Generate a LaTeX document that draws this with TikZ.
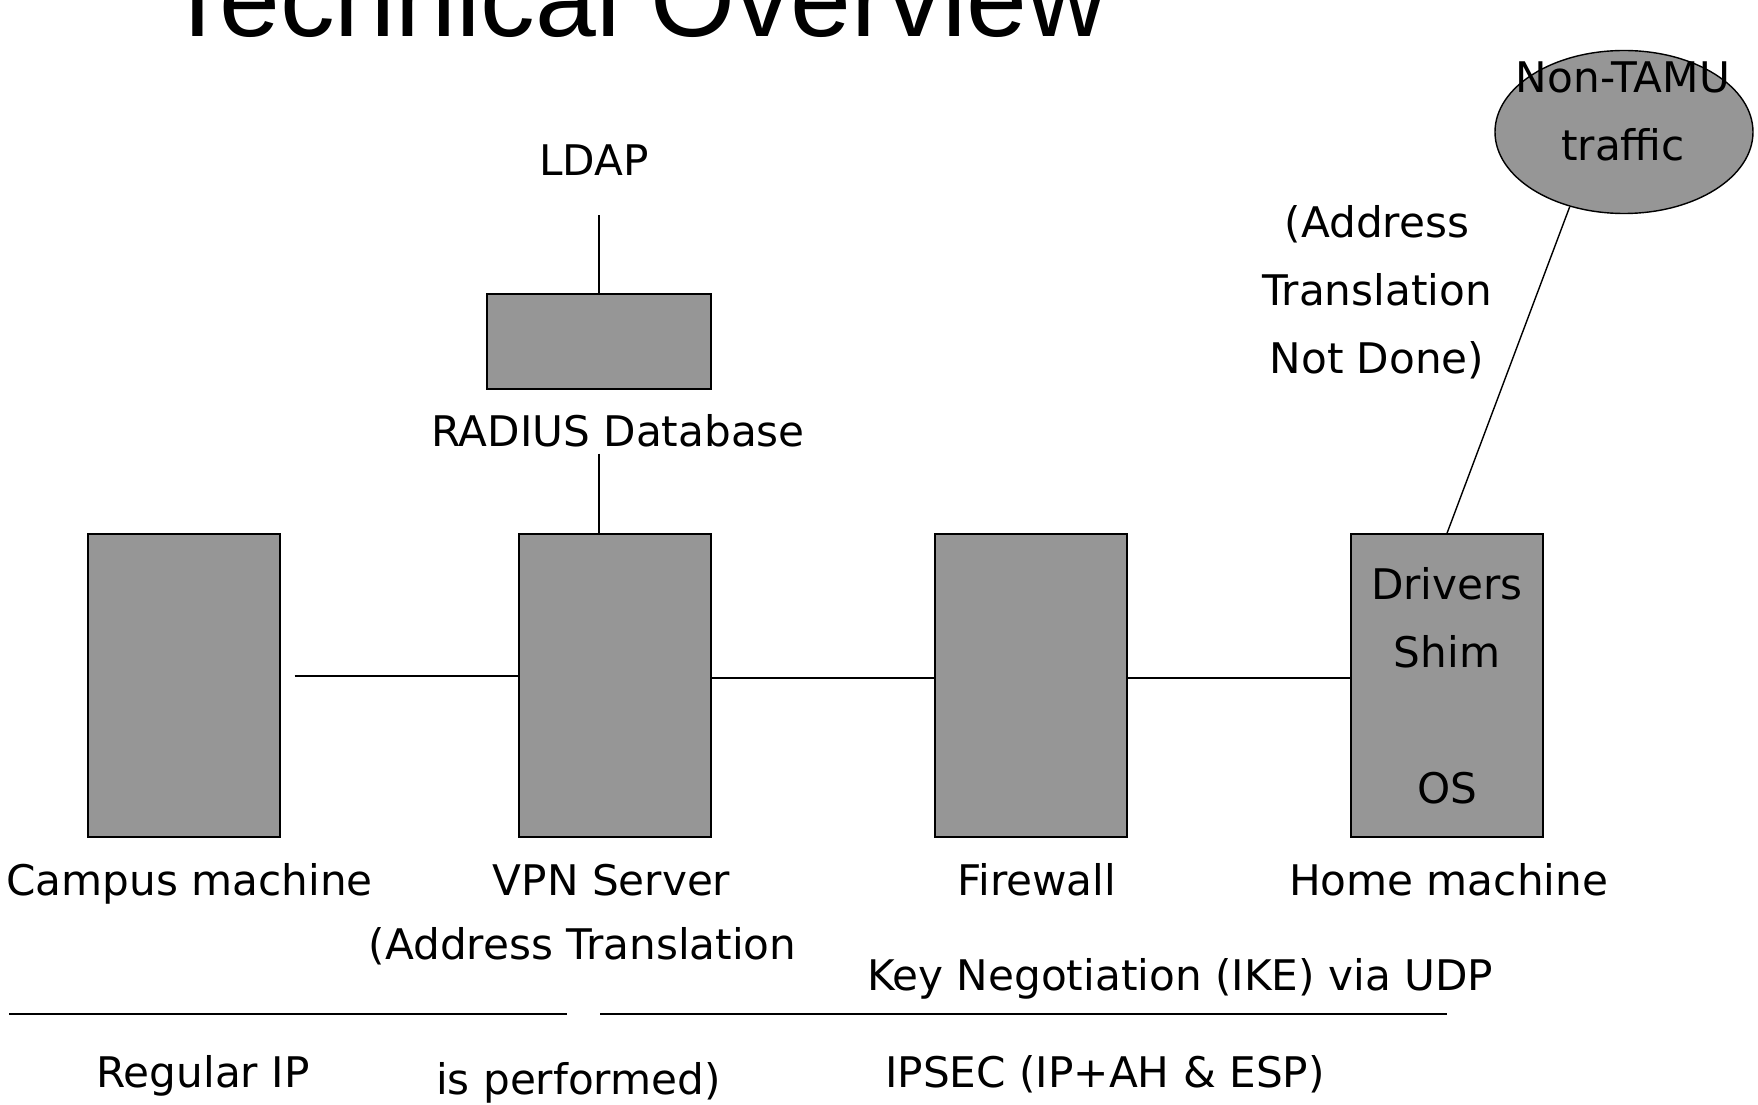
\documentclass[tikz,border=0pt]{standalone}
\usepackage{fontspec}
\setmainfont{DejaVu Sans}
\newfontfamily\titlefont{Liberation Sans}
\usetikzlibrary{shapes.geometric}
\definecolor{boxgray}{RGB}{150,150,150}

\begin{document}
\begin{tikzpicture}[x=0.1mm,y=-0.1mm,
  font=\fontsize{12}{19.35}\selectfont,
  machine/.style={draw, line width=0.4pt, fill=boxgray, minimum width=19.2mm, minimum height=30.3mm, inner sep=0pt},
  lbl/.style={inner sep=0pt, anchor=base},
  wire/.style={line width=0.4pt}]

\clip (0,0) rectangle (1758,1105);

% Title (cut at the top)
\node[anchor=base west, inner sep=0pt, font=\titlefont\fontsize{31.1}{36}\selectfont] (title) at (164,37) {Technical Overview};

% Draw the machines
\foreach \name/\x in {campus/184, vpn/615, fw/1031} {
  \node[machine] (\name) at (\x,685.5) {};
}
\node[machine, align=center] (home) at (1447,685.5) {Drivers\\Shim\\\mbox{}\\OS};

% Labels under the machines
\foreach \name/\x/\txt in {lcampus/189.5/Campus machine, lvpn/611.6/VPN Server, lfw/1036.6/Firewall, lhome/1448.6/Home machine} {
  \node[lbl] (\name) at (\x,896) {\txt};
}

% RADIUS and LDAP
\node[machine, minimum width=22.4mm, minimum height=9.5mm] (radius) at (599,341.5) {};
\node[minimum height=10.8mm, inner sep=0pt] (ldap) at (594,160) {LDAP};
\node[minimum height=4.4mm, inner sep=0pt] (rlabel) at (618,431) {RADIUS Database};
\draw[wire] (radius.north) -- (radius.north |- ldap.south);
\draw[wire] (radius.south |- rlabel.south) -- (radius.south |- vpn.north);

% Links between the machines
\draw[wire] ([xshift=1.4mm,yshift=0.95mm]campus.east) -- ([yshift=0.95mm]vpn.west);
\draw[wire] ([yshift=0.75mm]vpn.east) -- ([yshift=0.75mm]fw.west);
\draw[wire] ([yshift=0.75mm]fw.east) -- ([yshift=0.75mm]home.west);

% Non-TAMU traffic
\node[ellipse, draw, line width=0.4pt, fill=boxgray, minimum width=25.8mm, minimum height=16.3mm, inner sep=0pt] (nontamu) at (1624,132) {};
\node[align=center, inner sep=0pt] (ltraffic) at (1623,111) {Non-TAMU\\traffic};
\draw[wire] (home.north) -- (nontamu.234);
\node[align=center, inner sep=0pt] (notdone) at (1377,292) {(Address\\Translation\\Not Done)};

% Protocol notes
\node[lbl] (ltrans) at (582.5,960) {(Address Translation};
\node[lbl] (like) at (1180,991) {Key Negotiation (IKE) via UDP};
\draw[line width=0.6pt] (9,1014) -- (567,1014);
\draw[line width=0.6pt] (600,1014) -- (1447,1014);
\node[lbl] (lregular) at (203,1088) {Regular IP};
\node[lbl] (lperformed) at (578.5,1095) {is performed)};
\node[lbl] (lipsec) at (1105,1088) {IPSEC (IP+AH \& ESP)};

\end{tikzpicture}
\end{document}
